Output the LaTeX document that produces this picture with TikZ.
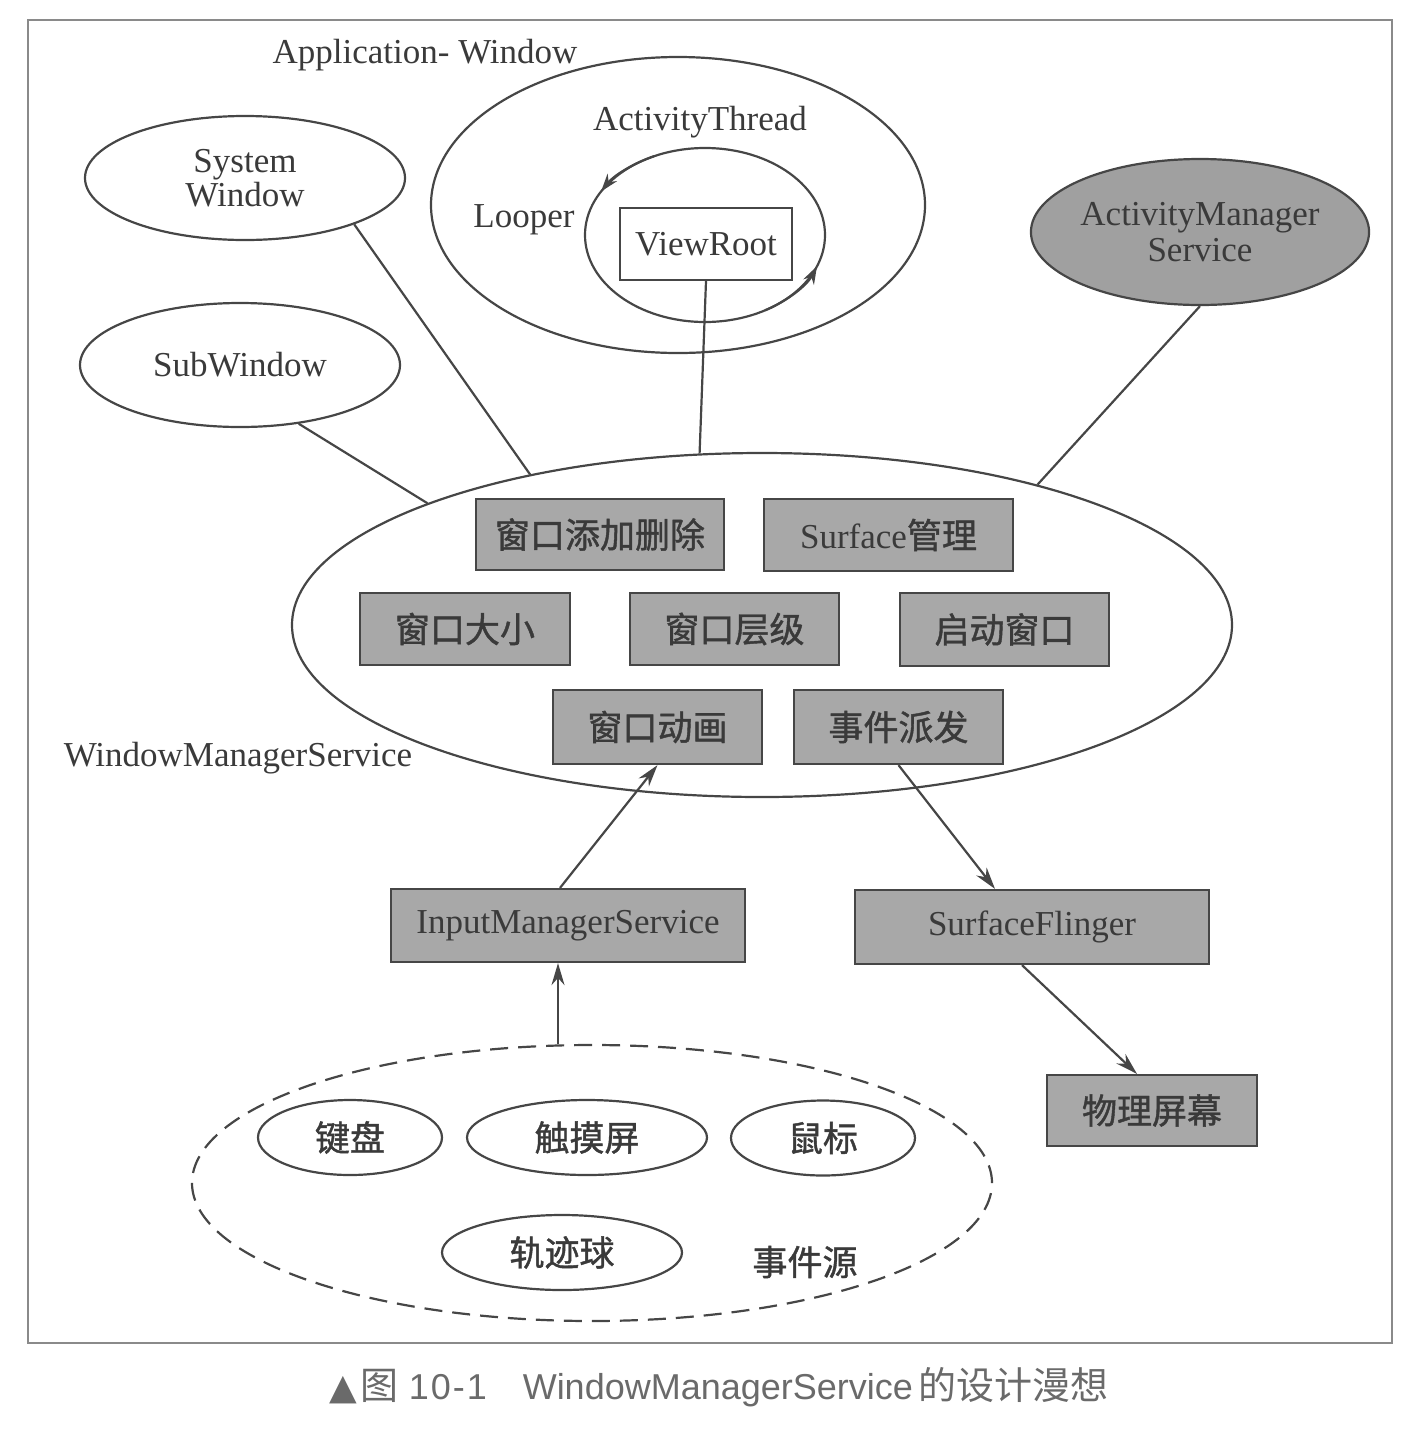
\documentclass[tikz,border=0pt]{standalone}
\usepackage{fontspec}
\setmainfont{Liberation Serif}
\newfontfamily\cjk[FakeBold=1.2]{Noto Sans CJK SC}
\newfontfamily\cjkcap{Noto Sans CJK SC}
\newfontfamily\capfont{Liberation Sans}
\newfontfamily\symfont{DejaVu Sans}
\usetikzlibrary{shapes.geometric,arrows.meta}
\definecolor{linec}{HTML}{464646}
\definecolor{boxfill}{HTML}{A8A8A8}
\definecolor{amsfill}{HTML}{A0A0A0}
\definecolor{txt}{HTML}{3A3A3A}
\definecolor{framec}{HTML}{8A8A8A}
\definecolor{capc}{HTML}{6A6A6A}
\begin{document}
\begin{tikzpicture}[x=0.5pt,y=-0.5pt,
  every node/.style={text=txt, font=\fontsize{17.5}{19}\selectfont},
  oval/.style={ellipse, draw=linec, line width=1.1pt, inner sep=0pt, align=center},
  gbox/.style={rectangle, draw=linec, line width=1.1pt, fill=boxfill, inner sep=0pt},
  conn/.style={draw=linec, line width=1.1pt},
  arr/.style={conn, -{Stealth[length=11pt,width=6.5pt]}},
  looparr/.style={conn, -{Stealth[length=9pt,width=6pt]}},
  cjkt/.style={font=\cjk\fontsize{17.5}{19}\selectfont}
]
\useasboundingbox (0,0) rectangle (1417,1441);
% frame
\node[draw=framec, line width=1.4pt, minimum width=682pt, minimum height=661.5pt, inner sep=0pt] (frame) at (710,681.5) {};

% Application window
\node (apptitle) at (425,55) {Application- Window};
\node[oval, minimum width=247pt, minimum height=148pt] (app) at (678,205) {};
\node (at) at (700,122) {ActivityThread};
\node[oval, minimum width=120pt, minimum height=87pt] (loop) at (705,235) {};
\node (looper) at (524,220) {Looper};
\node[rectangle, draw=linec, line width=1.1pt, minimum width=86pt, minimum height=36pt, inner sep=0pt] (vr) at (706,244) {ViewRoot};
\draw[looparr] ([shift={(115:60pt and 43.5pt)}]loop.center) arc[start angle=115, end angle=150, x radius=60pt, y radius=43.5pt];
\draw[looparr] ([shift={(300:60pt and 43.5pt)}]loop.center) arc[start angle=300, end angle=339, x radius=60pt, y radius=43.5pt];

% left windows
\node[oval, minimum width=160pt, minimum height=62pt] (sysw) at (245,178) {System\\[-2pt]Window};
\node[oval, minimum width=160pt, minimum height=62pt] (subw) at (240,365) {SubWindow};

% AMS
\node[oval, fill=amsfill, minimum width=168pt, minimum height=73pt] (ams) at (1200,232) {ActivityManager\\[-1pt]Service};

% WMS
\node[oval, minimum width=470pt, minimum height=172pt] (wms) at (762,625) {};
\node (wmslabel) at (238,758) {WindowManagerService};

\node[gbox, cjkt, minimum width=124pt, minimum height=35.5pt] (add) at (600,534.5) {窗口添加删除};
\node[gbox, minimum width=124.5pt, minimum height=36pt] (surf) at (888.5,535) {Surface{\cjk 管理}};
\node[gbox, cjkt, minimum width=105pt, minimum height=36pt] (size) at (465,629) {窗口大小};
\node[gbox, cjkt, minimum width=104.5pt, minimum height=36pt] (layer) at (734.5,629) {窗口层级};
\node[gbox, cjkt, minimum width=104.5pt, minimum height=36.5pt] (start) at (1004.5,629.5) {启动窗口};
\node[gbox, cjkt, minimum width=104.5pt, minimum height=37pt] (anim) at (657.5,727) {窗口动画};
\node[gbox, cjkt, minimum width=104.5pt, minimum height=37pt] (evt) at (898.5,727) {事件派发};

% lower boxes
\node[gbox, minimum width=177pt, minimum height=36.5pt] (ims) at (568,925.5) {InputManagerService};
\node[gbox, minimum width=177pt, minimum height=37pt] (sf) at (1032,927) {SurfaceFlinger};
\node[gbox, cjkt, minimum width=105pt, minimum height=35.5pt] (phy) at (1152,1110.5) {物理屏幕};

% event source
\node[oval, dashed, dash pattern=on 9pt off 5pt, minimum width=400pt, minimum height=138pt] (src) at (592,1183) {};
\node[oval, cjkt, minimum width=92pt, minimum height=37.5pt] (kb) at (350,1137.5) {键盘};
\node[oval, cjkt, minimum width=120pt, minimum height=37.5pt] (touch) at (587,1137.5) {触摸屏};
\node[oval, cjkt, minimum width=92pt, minimum height=37.5pt] (mouse) at (823,1138) {鼠标};
\node[oval, cjkt, minimum width=120pt, minimum height=37.5pt] (ball) at (562,1252.5) {轨迹球};
\node[cjkt] (srclabel) at (805,1262) {事件源};

% connectors
\draw[conn] (sysw.-23.6) -- (wms.147.9);
\draw[conn] (subw.-45.5) -- (wms.160.9);
\draw[conn] (vr.south) -- (wms.110.3);
\draw[conn] (ams.south) -- (wms.27);
\draw[arr] ([xshift=-4pt]ims.north) -- (anim.south);
\coordinate (imsin) at ([xshift=-5pt]ims.south);
\draw[arr] (src.north -| imsin) -- (imsin);
\draw[arr] (evt.south) -- ([xshift=-18.5pt]sf.north);
\draw[arr] ([xshift=-5pt]sf.south) -- ([xshift=-7.5pt]phy.north);

% caption
\node[anchor=west, text=capc, font=\capfont\fontsize{18}{20}\selectfont] (cap) at (322,1387) {{\symfont ▲}\hspace{2pt}{\cjkcap\fontsize{19}{20}\selectfont 图}\hspace{5pt}1\hspace{1pt}0\hspace{1pt}-\hspace{1pt}1\hspace{18pt}WindowManagerService\hspace{3pt}{\cjkcap\fontsize{19}{20}\selectfont 的设计漫想}};
\end{tikzpicture}
\end{document}
